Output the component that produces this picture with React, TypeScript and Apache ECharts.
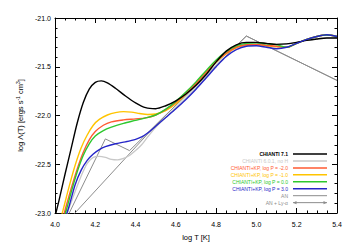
import React, { useEffect, useRef } from "react";
import * as echarts from "echarts";

// ---- data (log T [K] vs log Lambda(T)) ----
const T_CH71 = [3.99, 4.02, 4.05, 4.08, 4.11, 4.14, 4.17, 4.2, 4.23, 4.26, 4.3, 4.35, 4.4, 4.45, 4.5, 4.55, 4.6, 4.65, 4.7, 4.75, 4.8, 4.85, 4.9, 4.95, 5.0, 5.05, 5.1, 5.15, 5.2, 5.25, 5.3, 5.35, 5.4];
const V_CH71 = [-23.12, -22.87, -22.6, -22.34, -22.08, -21.87, -21.73, -21.66, -21.645, -21.665, -21.72, -21.8, -21.87, -21.92, -21.93, -21.9, -21.85, -21.78, -21.69, -21.58, -21.45, -21.34, -21.275, -21.25, -21.25, -21.26, -21.27, -21.265, -21.25, -21.23, -21.215, -21.205, -21.205];

const T_CH601 = [4.04, 4.07, 4.1, 4.13, 4.16, 4.19, 4.22, 4.25, 4.28, 4.31, 4.34, 4.37, 4.4, 4.43, 4.46, 4.5, 4.55, 4.6, 4.65, 4.7, 4.75, 4.8, 4.85, 4.9, 4.95, 5.0, 5.05, 5.1, 5.15, 5.2, 5.25, 5.3, 5.35, 5.4];
const V_CH601 = [-23.12, -22.95, -22.78, -22.62, -22.49, -22.43, -22.42, -22.43, -22.45, -22.455, -22.44, -22.41, -22.36, -22.3, -22.22, -22.12, -22.02, -21.92, -21.82, -21.715, -21.6, -21.48, -21.37, -21.3, -21.27, -21.26, -21.265, -21.27, -21.265, -21.25, -21.23, -21.215, -21.205, -21.205];

const T_KP_M2 = [4.03, 4.05, 4.08, 4.11, 4.14, 4.17, 4.2, 4.24, 4.28, 4.34, 4.4, 4.45, 4.5, 4.55, 4.6, 4.65, 4.7, 4.75, 4.8, 4.85, 4.9, 4.95, 5.0, 5.05, 5.1, 5.15, 5.2, 5.25, 5.3, 5.35, 5.4];
const V_KP_M2 = [-23.12, -22.97, -22.75, -22.55, -22.38, -22.25, -22.165, -22.1, -22.065, -22.045, -22.035, -22.025, -21.995, -21.94, -21.865, -21.775, -21.67, -21.555, -21.445, -21.36, -21.3, -21.275, -21.27, -21.28, -21.29, -21.3, -21.26, -21.22, -21.19, -21.175, -21.19];

const T_KP_M1 = [4.02, 4.04, 4.07, 4.1, 4.13, 4.16, 4.19, 4.22, 4.26, 4.3, 4.34, 4.38, 4.42, 4.46, 4.5, 4.55, 4.6, 4.65, 4.7, 4.75, 4.8, 4.85, 4.9, 4.95, 5.0, 5.05, 5.1, 5.15, 5.2, 5.25, 5.3, 5.35, 5.4];
const V_KP_M1 = [-23.12, -22.97, -22.73, -22.51, -22.33, -22.2, -22.1, -22.04, -21.995, -21.97, -21.96, -21.965, -21.98, -21.99, -21.985, -21.95, -21.88, -21.78, -21.675, -21.56, -21.45, -21.365, -21.305, -21.28, -21.275, -21.285, -21.295, -21.3, -21.26, -21.22, -21.19, -21.175, -21.19];

const T_KP_0 = [4.035, 4.055, 4.08, 4.11, 4.14, 4.17, 4.2, 4.24, 4.28, 4.34, 4.4, 4.45, 4.5, 4.55, 4.6, 4.65, 4.7, 4.75, 4.8, 4.85, 4.9, 4.95, 5.0, 5.05, 5.1, 5.15, 5.2, 5.25, 5.3, 5.35, 5.4];
const V_KP_0 = [-23.12, -22.98, -22.79, -22.58, -22.41, -22.29, -22.21, -22.155, -22.12, -22.08, -22.05, -22.025, -21.995, -21.935, -21.855, -21.76, -21.655, -21.54, -21.43, -21.345, -21.285, -21.26, -21.255, -21.265, -21.275, -21.3, -21.26, -21.22, -21.19, -21.175, -21.19];

const T_KP_3 = [4.04, 4.07, 4.1, 4.13, 4.16, 4.19, 4.22, 4.25, 4.3, 4.35, 4.4, 4.43, 4.46, 4.5, 4.55, 4.6, 4.65, 4.7, 4.75, 4.8, 4.85, 4.9, 4.95, 5.0, 5.05, 5.1, 5.15, 5.2, 5.25, 5.3, 5.35, 5.4];
const V_KP_3 = [-23.12, -22.93, -22.71, -22.56, -22.46, -22.395, -22.35, -22.32, -22.29, -22.27, -22.245, -22.22, -22.18, -22.11, -22.02, -21.93, -21.835, -21.73, -21.615, -21.5, -21.395, -21.325, -21.29, -21.285, -21.3, -21.315, -21.3, -21.26, -21.22, -21.19, -21.172, -21.19];

const T_AN = [4.0, 4.25, 4.37, 4.95, 5.4];
const V_AN = [-23.3, -22.24, -22.36, -21.185, -21.64];

const T_AN_LYA = [4.05, 4.5, 4.95, 5.4];
const V_AN_LYA = [-23.11, -22.1, -21.185, -21.64];

const X_TICKS = [4.0, 4.2, 4.4, 4.6, 4.8, 5.0, 5.2, 5.4];
const Y_TICKS = [-23.0, -22.5, -22.0, -21.5, -21.0];

const LEGEND_LABELS = [
  "CHIANTI 7.1",
  "CHIANTI 6.0.1, no H",
  "CHIANTI+KP, log P = -2.0",
  "CHIANTI+KP, log P = -1.0",
  "CHIANTI+KP, log P = 0.0",
  "CHIANTI+KP, log P = 3.0",
  "AN",
  "AN + Ly-\u03b1",
];
const COLORS = ["#000000", "#c8c8c8", "#ff5a32", "#ffc400", "#2ec82e", "#2626c8", "#8c8c8c", "#8c8c8c"];

const FONT = "'Liberation Sans', Arial, Helvetica, sans-serif";

function zip(t: number[], v: number[]) {
  return t.map((x, i) => [x, v[i]]);
}

export default function App() {
  const ref = useRef<HTMLDivElement>(null);
  useEffect(() => {
    const chart = echarts.init(ref.current!, null, { renderer: "svg" });

    const gridL = 55, gridR = 17, gridT = 18, gridB = 37;
    const xCommon = {
      type: "value",
      min: X_TICKS[0],
      max: X_TICKS[X_TICKS.length - 1],
      interval: 0.2,
      splitLine: { show: false },
      axisLine: { show: true, onZero: false, lineStyle: { color: "#000", width: 1 } },
      axisTick: { show: true, inside: true, length: 5, lineStyle: { color: "#000", width: 1 } },
      minorTick: { show: true, splitNumber: 4, length: 2.5, lineStyle: { color: "#000", width: 1 } },
    };
    const yCommon = {
      type: "value",
      min: Y_TICKS[0],
      max: Y_TICKS[Y_TICKS.length - 1],
      interval: 0.5,
      splitLine: { show: false },
      axisLine: { show: true, onZero: false, lineStyle: { color: "#000", width: 1 } },
      axisTick: { show: true, inside: true, length: 5, lineStyle: { color: "#000", width: 1 } },
      minorTick: { show: true, splitNumber: 5, length: 2.5, lineStyle: { color: "#000", width: 1 } },
    };

    const seriesDefs = [
      { name: LEGEND_LABELS[7], t: T_AN_LYA, v: V_AN_LYA, color: COLORS[7], w: 1, smooth: false },
      { name: LEGEND_LABELS[6], t: T_AN, v: V_AN, color: COLORS[6], w: 1, smooth: false },
      { name: LEGEND_LABELS[1], t: T_CH601, v: V_CH601, color: COLORS[1], w: 1.3, smooth: true },
      { name: LEGEND_LABELS[3], t: T_KP_M1, v: V_KP_M1, color: COLORS[3], w: 1.4, smooth: true },
      { name: LEGEND_LABELS[2], t: T_KP_M2, v: V_KP_M2, color: COLORS[2], w: 1.4, smooth: true },
      { name: LEGEND_LABELS[4], t: T_KP_0, v: V_KP_0, color: COLORS[4], w: 1.4, smooth: true },
      { name: LEGEND_LABELS[0], t: T_CH71, v: V_CH71, color: COLORS[0], w: 1.4, smooth: true },
      { name: LEGEND_LABELS[5], t: T_KP_3, v: V_KP_3, color: COLORS[5], w: 1.4, smooth: true },
    ];

    const series = seriesDefs.map((s) => ({
      type: "line",
      name: s.name,
      data: zip(s.t, s.v),
      showSymbol: false,
      symbol: "none",
      smooth: s.smooth ? 0.3 : false,
      clip: true,
      lineStyle: { color: s.color, width: s.w },
      itemStyle: { color: s.color },
      xAxisIndex: 0,
      yAxisIndex: 0,
    }));

    // legend drawn as graphic elements (lower right, text right-aligned, line sample right)
    const legY0 = 154, legStep = 6.95, textRight = 288, lx1 = 293, lx2 = 327;
    const legendEls: any[] = [];
    LEGEND_LABELS.forEach((label, i) => {
      const y = legY0 + i * legStep;
      legendEls.push({
        type: "text",
        x: textRight,
        y,
        style: {
          text: label,
          align: "right",
          verticalAlign: "middle",
          fontSize: 5,
          fontFamily: FONT,
          fill: COLORS[i],
          fontWeight: i === 0 ? "bold" : "normal",
        },
        silent: true,
      });
      legendEls.push({
        type: "line",
        shape: { x1: lx1, y1: y, x2: lx2, y2: y },
        style: { stroke: COLORS[i], lineWidth: i >= 6 ? 1 : 1.5 },
        silent: true,
      });
      if (i === 7) {
        legendEls.push({
          type: "polygon",
          shape: { points: [[lx1, y], [lx1 + 3.5, y - 1.6], [lx1 + 3.5, y + 1.6]] },
          style: { fill: COLORS[i] },
          silent: true,
        });
        legendEls.push({
          type: "polygon",
          shape: { points: [[lx2, y], [lx2 - 3.5, y - 1.6], [lx2 - 3.5, y + 1.6]] },
          style: { fill: COLORS[i] },
          silent: true,
        });
      }
    });

    chart.setOption({
      animation: false,
      backgroundColor: "#fff",
      textStyle: { fontFamily: FONT },
      grid: { left: gridL, right: gridR, top: gridT, bottom: gridB, containLabel: false },
      xAxis: [
        {
          ...xCommon,
          position: "bottom",
          axisLabel: {
            show: true,
            fontSize: 7,
            color: "#000",
            fontFamily: FONT,
            margin: 8,
            formatter: (v: number) => v.toFixed(1),
          },
          name: "log T [K]",
          nameLocation: "middle",
          nameGap: 20,
          nameTextStyle: { fontSize: 7.5, color: "#000", fontFamily: FONT },
        },
        { ...xCommon, position: "top", axisLabel: { show: false } },
      ],
      yAxis: [
        {
          ...yCommon,
          position: "left",
          axisLabel: {
            show: true,
            fontSize: 7,
            color: "#000",
            fontFamily: FONT,
            margin: 4,
            formatter: (v: number) => v.toFixed(1),
          },
          name: "{a|log \u039b(T) [ergs s}{s|-1}{a| cm}{s|3}{a|]}",
          nameLocation: "middle",
          nameGap: 26,
          nameTextStyle: {
            color: "#000",
            fontFamily: FONT,
            rich: {
              a: { fontSize: 7.5, lineHeight: 10, color: "#000", fontFamily: FONT },
              s: { fontSize: 5, lineHeight: 5, verticalAlign: "top", color: "#000", fontFamily: FONT },
            },
          },
        },
        { ...yCommon, position: "right", axisLabel: { show: false } },
      ],
      series,
      graphic: legendEls,
    });

    return () => chart.dispose();
  }, []);

  return (
    <div
      ref={ref}
      style={{ position: "fixed", left: 0, top: 0, width: 354, height: 250, background: "#fff" }}
    />
  );
}
